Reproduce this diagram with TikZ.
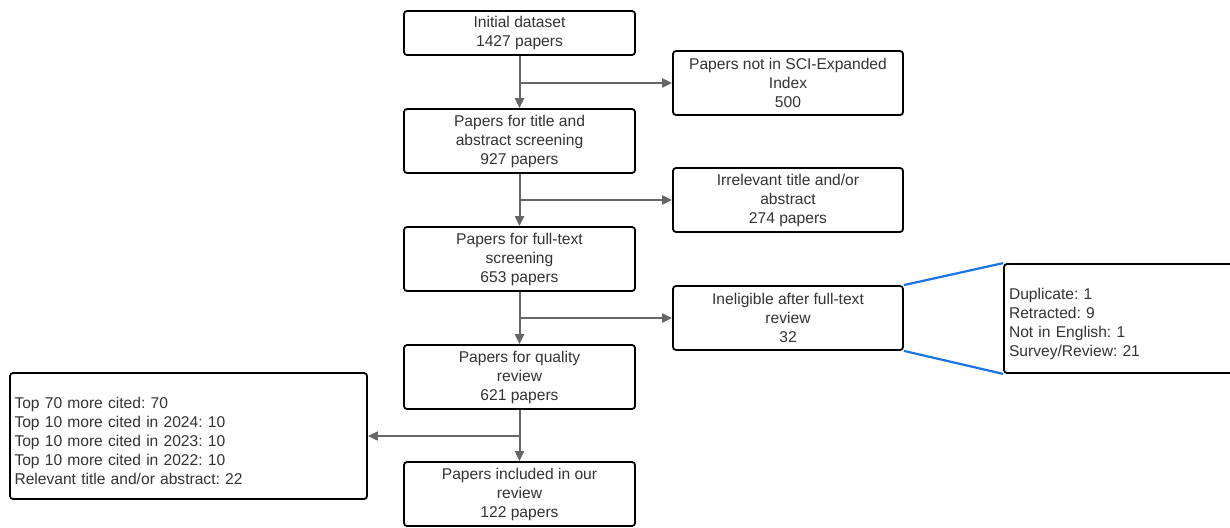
\documentclass[tikz,border=0pt]{standalone}
\usepackage{fontspec}
\setmainfont{Liberation Sans}
\frenchspacing
\usetikzlibrary{arrows.meta}
\definecolor{txt}{HTML}{333333}
\definecolor{arrgray}{HTML}{666666}
\definecolor{zoomblue}{HTML}{1A73E8}
\tikzset{
  box/.style={draw=black, line width=1.8pt, rounded corners=3pt, fill=white,
    minimum width=231pt, minimum height=64pt, inner sep=2pt, align=center,
    text=txt, font=\fontsize{15.6pt}{19pt}\selectfont},
  listbox/.style={box, align=left, inner xsep=3.5pt},
  arr/.style={draw=arrgray, line width=2pt, -{Triangle[length=10pt,width=9pt]}},
  zoomline/.style={draw=zoomblue, line width=2.2pt}
}
\begin{document}
\begin{tikzpicture}[x=1pt,y=1pt]
\clip (0,0) rectangle (1230,-527);
\useasboundingbox (0,0) rectangle (1230,-527);
\node[box, minimum height=44pt] (init) at (519.5,-33) {Initial dataset\\1427 papers};
\node[box, minimum width=230pt] (sci) at (788,-83) {Papers not in SCI-Expanded\\Index\\500};
\node[box] (title) at (519.5,-141) {Papers for title and\\abstract screening\\927 papers};
\node[box, minimum width=230pt] (irr) at (788,-200) {Irrelevant title and/or\\abstract\\274 papers};
\node[box] (full) at (519.5,-259) {Papers for full-text\\screening\\653 papers};
\node[box, minimum width=230pt] (inel) at (788,-318) {Ineligible after full-text\\review\\32};
\node[box] (qual) at (519.5,-377) {Papers for quality\\review\\621 papers};
\node[box] (incl) at (519.5,-494) {Papers included in our\\review\\122 papers};
\node[listbox, minimum width=357pt, minimum height=126pt, text width=348pt] (left) at (188.5,-436)
  {\\[2pt]Top 70 more cited: 70\\Top 10 more cited in 2024: 10\\Top 10 more cited in 2023: 10\\Top 10 more cited in 2022: 10\\Relevant title and/or abstract: 22};
\node[listbox, minimum width=240pt, minimum height=109pt, text width=230pt] (right) at (1124,-318.5)
  {\\[3pt]Duplicate: 1\\Retracted: 9\\Not in English: 1\\Survey/Review: 21};
\draw[arr] (init.south) -- (title.north);
\draw[arr] (title.south) -- (full.north);
\draw[arr] (full.south) -- (qual.north);
\draw[arr] (qual.south) -- (incl.north);
\draw[arr] (init.south |- sci.west) -- (sci.west);
\draw[arr] (title.south |- irr.west) -- (irr.west);
\draw[arr] (full.south |- inel.west) -- (inel.west);
\draw[arr] (qual.south |- left.east) -- (left.east);
\draw[zoomline] (inel.north east) -- (right.north west);
\draw[zoomline] (inel.south east) -- (right.south west);
\end{tikzpicture}
\end{document}
